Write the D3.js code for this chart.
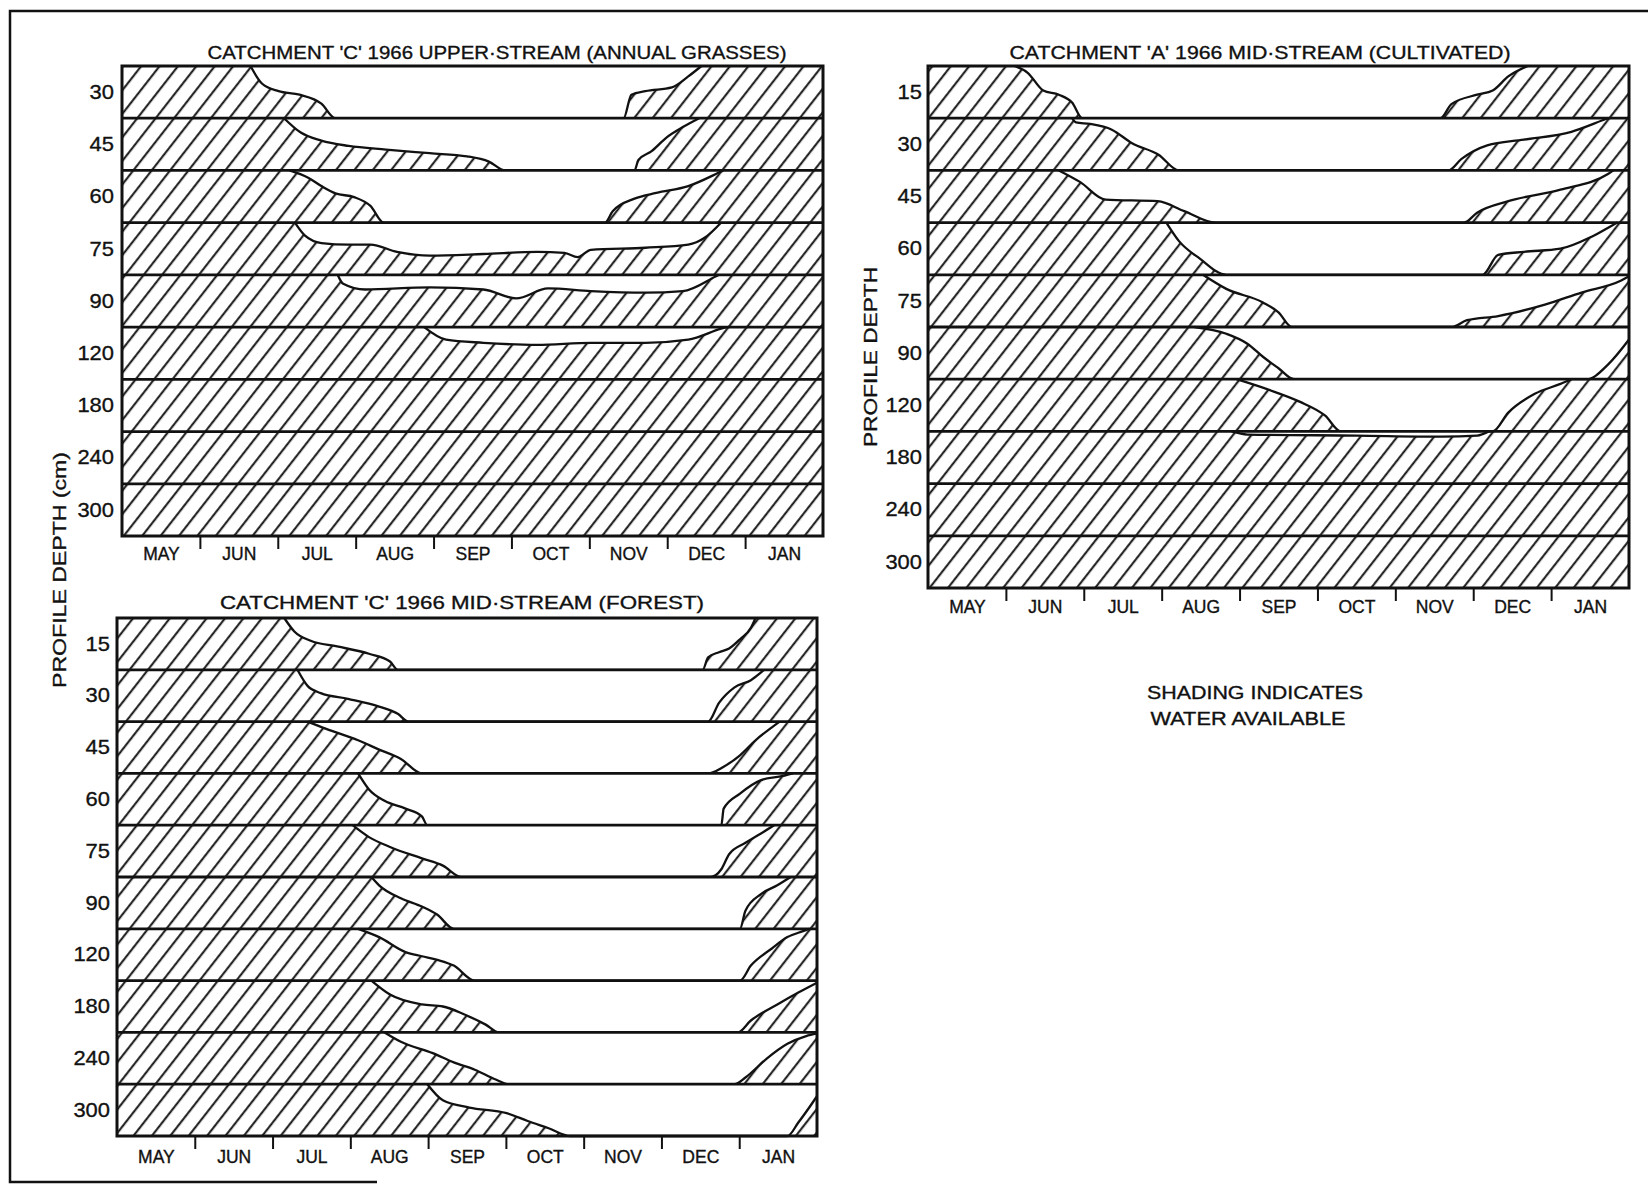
<!DOCTYPE html>
<html>
<head>
<meta charset="utf-8">
<script src="https://cdn.jsdelivr.net/npm/d3@7"></script>
<style>
  body { margin: 0; background: #fff; }
  svg text { font-family: "Liberation Sans", Arial, sans-serif; fill: #111; stroke: #111; stroke-width: 0.35px; }
</style>
</head>
<body>
<svg id="fig" width="1648" height="1184"></svg>
<script>
const MONTHS      = ["MAY","JUN","JUL","AUG","SEP","OCT","NOV","DEC","JAN"];
const DEPTHS_UP   = ["30","45","60","75","90","120","180","240","300"];
const DEPTHS_MID  = ["15","30","45","60","75","90","120","180","240","300"];

// unshaded (dry) zone per depth row: [month position 0..9, fraction down the row 0..1]
// the dry zone lies between the top of the row and this curve
const dryUpperC = [
  [[1.65,0],[1.80,0.34],[2.01,0.48],[2.28,0.55],[2.56,0.72],[2.74,1],[6.44,1],[6.54,0.55],[6.72,0.48],[7.06,0.41],[7.27,0.2],[7.44,0]],
  [[2.08,0],[2.29,0.27],[2.56,0.43],[2.91,0.53],[3.39,0.6],[3.95,0.67],[4.43,0.73],[4.71,0.83],[4.92,1],[6.58,1],[6.63,0.8],[6.8,0.63],[6.99,0.37],[7.2,0.17],[7.41,0]],
  [[2.15,0],[2.39,0.14],[2.56,0.3],[2.74,0.44],[2.98,0.51],[3.19,0.68],[3.36,1],[6.2,1],[6.3,0.78],[6.58,0.54],[6.86,0.43],[7.27,0.3],[7.65,0.05],[7.72,0]],
  [[2.22,0],[2.35,0.25],[2.56,0.39],[2.91,0.42],[3.19,0.42],[3.53,0.56],[3.95,0.63],[4.64,0.6],[5.33,0.56],[5.68,0.58],[5.85,0.66],[6.02,0.52],[6.72,0.48],[7.27,0.42],[7.48,0.29],[7.69,0]],
  [[2.77,0],[2.84,0.17],[3.12,0.28],[3.95,0.24],[4.64,0.28],[5.06,0.45],[5.47,0.26],[6.02,0.31],[6.72,0.34],[7.2,0.31],[7.62,0.03],[7.66,0]],
  [[3.88,0],[4.16,0.24],[4.64,0.3],[5.33,0.34],[6.02,0.3],[6.72,0.3],[7.27,0.24],[7.69,0.03],[7.76,0]],
  [], [], []
];

const dryMidA = [
  [[1.11,0],[1.28,0.13],[1.48,0.47],[1.68,0.55],[1.85,0.7],[1.98,1],[6.58,1],[6.72,0.73],[7.05,0.55],[7.25,0.47],[7.45,0.2],[7.7,0]],
  [[1.85,0],[1.9,0.08],[2.08,0.11],[2.36,0.22],[2.62,0.48],[2.96,0.7],[3.22,1],[6.68,1],[6.85,0.78],[7.18,0.52],[7.65,0.41],[8.26,0.26],[8.66,0.04],[8.73,0]],
  [[1.68,0],[1.95,0.22],[2.28,0.56],[2.95,0.59],[3.29,0.78],[3.69,1],[6.88,1],[7.05,0.81],[7.45,0.59],[8.12,0.37],[8.73,0.07],[8.8,0]],
  [[3.06,0],[3.22,0.35],[3.49,0.69],[3.83,1],[7.12,1],[7.32,0.62],[7.65,0.56],[8.12,0.5],[8.52,0.27],[8.8,0.04],[8.85,0]],
  [[3.53,0],[3.83,0.27],[4.3,0.53],[4.5,0.72],[4.67,1],[6.72,1],[6.92,0.87],[7.32,0.79],[7.92,0.57],[8.39,0.34],[8.9,0.11],[9,0.03]],
  [[3.42,0],[3.83,0.13],[4.1,0.32],[4.3,0.57],[4.5,0.79],[4.7,1],[8.46,1],[8.73,0.72],[9,0.24]],
  [[3.96,0],[4.37,0.2],[4.77,0.43],[5.1,0.7],[5.3,1],[7.25,1],[7.45,0.64],[7.79,0.28],[8.12,0.09],[8.26,0]],
  [[3.9,0],[4.1,0.06],[5.5,0.08],[6.6,0.1],[7.05,0.08],[7.2,0]],
  [], []
];

const dryMidC = [
  [[2.15,0],[2.28,0.26],[2.49,0.44],[2.83,0.55],[3.24,0.69],[3.51,0.84],[3.61,1],[7.53,1],[7.6,0.76],[7.74,0.66],[7.87,0.59],[8.01,0.41],[8.15,0.19],[8.21,0]],
  [[2.32,0],[2.45,0.31],[2.62,0.45],[2.97,0.56],[3.37,0.71],[3.61,0.85],[3.75,1],[7.6,1],[7.74,0.64],[7.94,0.34],[8.15,0.2],[8.28,0.05],[8.32,0]],
  [[2.45,0],[2.69,0.14],[3.1,0.36],[3.37,0.54],[3.65,0.72],[3.92,1],[7.6,1],[7.8,0.87],[8.01,0.65],[8.21,0.36],[8.42,0.11],[8.52,0]],
  [[3.1,0],[3.24,0.31],[3.44,0.53],[3.71,0.68],[3.92,0.83],[3.99,1],[7.77,1],[7.8,0.68],[8.01,0.39],[8.28,0.13],[8.56,0.05],[8.69,0]],
  [[3.03,0],[3.24,0.23],[3.51,0.42],[3.92,0.64],[4.19,0.78],[4.43,1],[7.63,1],[7.77,0.85],[7.87,0.56],[8.08,0.34],[8.28,0.16],[8.45,0]],
  [[3.27,0],[3.37,0.16],[3.65,0.41],[3.92,0.57],[4.12,0.73],[4.33,1],[8.01,1],[8.08,0.65],[8.28,0.33],[8.49,0.16],[8.62,0.04],[8.66,0]],
  [[3.1,0],[3.37,0.16],[3.71,0.45],[3.92,0.53],[4.12,0.6],[4.33,0.71],[4.6,1],[8.01,1],[8.15,0.71],[8.42,0.38],[8.62,0.16],[8.83,0.04],[8.9,0]],
  [[3.27,0],[3.51,0.27],[3.92,0.46],[4.19,0.5],[4.46,0.65],[4.74,0.85],[4.91,1],[7.98,1],[8.15,0.77],[8.49,0.46],[8.76,0.23],[9,0.04]],
  [[3.44,0],[3.65,0.18],[4.06,0.4],[4.33,0.58],[4.6,0.72],[4.87,0.91],[5.04,1],[7.94,1],[8.08,0.87],[8.35,0.51],[8.62,0.22],[8.86,0.07],[9,0.02]],
  [[3.99,0],[4.19,0.31],[4.53,0.45],[5.01,0.56],[5.28,0.71],[5.55,0.85],[5.83,1],[8.62,1],[8.76,0.74],[8.9,0.45],[9,0.23]]
];

const INK = "#111";
const svg = d3.select("#fig");

// hatch pattern — "/" lines
svg.append("defs").append("pattern")
  .attr("id", "hatch")
  .attr("patternUnits", "userSpaceOnUse")
  .attr("width", 14.5).attr("height", 14.5)
  .attr("patternTransform", "rotate(38)")
  .append("line")
  .attr("x1", 7).attr("y1", -1).attr("x2", 7).attr("y2", 15.5)
  .attr("stroke", INK).attr("stroke-width", 2);

// outer frame (open on the right, short at the bottom)
svg.append("path")
  .attr("d", "M1648,11 L10,11 L10,1182 L377,1182")
  .attr("fill", "none").attr("stroke", INK).attr("stroke-width", 2.5);

const panels = [
  { title: "CATCHMENT 'C' 1966  UPPER·STREAM (ANNUAL GRASSES)", titleX: 497, titleY: 59, titleW: 579,
    depths: DEPTHS_UP, dry: dryUpperC, x0: 122, x1: 823, y0: 66, y1: 536, monthPad: 12, labelPad: 8 },
  { title: "CATCHMENT 'A' 1966  MID·STREAM (CULTIVATED)", titleX: 1260, titleY: 59, titleW: 501,
    depths: DEPTHS_MID, dry: dryMidA, x0: 928, x1: 1629, y0: 66, y1: 588, monthPad: 13, labelPad: 6 },
  { title: "CATCHMENT 'C' 1966  MID·STREAM  (FOREST)", titleX: 462, titleY: 609, titleW: 484,
    depths: DEPTHS_MID, dry: dryMidC, x0: 117, x1: 817, y0: 618, y1: 1136, monthPad: 15, labelPad: 7 }
];

panels.forEach(drawPanel);

function drawPanel(p) {
  const x = d3.scaleLinear().domain([0, 9]).range([p.x0, p.x1]);
  const y = d3.scaleBand().domain(p.depths).range([p.y0, p.y1]);
  const h = y.bandwidth();
  const g = svg.append("g");

  // everything starts shaded
  g.append("rect")
    .attr("x", p.x0).attr("y", p.y0)
    .attr("width", p.x1 - p.x0).attr("height", p.y1 - p.y0)
    .attr("fill", "url(#hatch)");

  // dry zones cut out of each row
  p.dry.forEach((pts, i) => {
    if (!pts.length) return;
    const top = y(p.depths[i]);
    const area = d3.area()
      .x(d => x(d[0]))
      .y0(top)
      .y1(d => top + d[1] * h)
      .curve(d3.curveMonotoneX);
    const line = d3.line()
      .x(d => x(d[0]))
      .y(d => top + d[1] * h)
      .curve(d3.curveMonotoneX);
    g.append("path").attr("d", area(pts)).attr("fill", "#fff");
    g.append("path").attr("d", line(pts))
      .attr("fill", "none").attr("stroke", INK).attr("stroke-width", 2.3);
  });

  // row separators
  g.selectAll(".row-line")
    .data(p.depths.slice(1))
    .join("line")
    .attr("x1", p.x0).attr("x2", p.x1)
    .attr("y1", d => y(d)).attr("y2", d => y(d))
    .attr("stroke", INK).attr("stroke-width", 2.8);

  g.append("rect")
    .attr("x", p.x0).attr("y", p.y0)
    .attr("width", p.x1 - p.x0).attr("height", p.y1 - p.y0)
    .attr("fill", "none").attr("stroke", INK).attr("stroke-width", 3);

  // month boundary ticks
  const tk = g.append("g")
    .attr("transform", `translate(0,${p.y1})`)
    .call(d3.axisBottom(x).tickValues(d3.range(1, 9)).tickSize(13).tickFormat(""));
  tk.select(".domain").remove();
  tk.selectAll(".tick line").attr("stroke", INK).attr("stroke-width", 2);

  // month names centred in each month
  const ml = g.append("g")
    .attr("transform", `translate(0,${p.y1})`)
    .call(d3.axisBottom(x).tickValues(d3.range(9).map(i => i + 0.5))
            .tickSize(0).tickPadding(p.monthPad)
            .tickFormat((d, i) => MONTHS[i]));
  ml.select(".domain").remove();
  ml.selectAll("text").style("font-size", "17.5px");

  // depth labels
  const yl = g.append("g")
    .attr("transform", `translate(${p.x0},0)`)
    .call(d3.axisLeft(y).tickSize(0).tickPadding(p.labelPad));
  yl.select(".domain").remove();
  yl.selectAll("text").style("font-size", "21px")
    .attr("textLength", d => d.length * 12.2)
    .attr("lengthAdjust", "spacingAndGlyphs");

  g.append("text")
    .attr("x", p.titleX).attr("y", p.titleY)
    .attr("text-anchor", "middle")
    .attr("textLength", p.titleW).attr("lengthAdjust", "spacingAndGlyphs")
    .style("font-size", "18.5px")
    .text(p.title);
}

// axis captions
svg.append("text")
  .attr("transform", "translate(66,570) rotate(-90)")
  .attr("text-anchor", "middle")
  .attr("textLength", 236).attr("lengthAdjust", "spacingAndGlyphs")
  .style("font-size", "18px")
  .text("PROFILE  DEPTH  (cm)");

svg.append("text")
  .attr("transform", "translate(877,357) rotate(-90)")
  .attr("text-anchor", "middle")
  .attr("textLength", 180).attr("lengthAdjust", "spacingAndGlyphs")
  .style("font-size", "18px")
  .text("PROFILE  DEPTH");

// note
svg.append("text")
  .attr("x", 1255).attr("y", 699)
  .attr("text-anchor", "middle")
  .attr("textLength", 216).attr("lengthAdjust", "spacingAndGlyphs")
  .style("font-size", "18px")
  .text("SHADING  INDICATES");
svg.append("text")
  .attr("x", 1248).attr("y", 725)
  .attr("text-anchor", "middle")
  .attr("textLength", 195).attr("lengthAdjust", "spacingAndGlyphs")
  .style("font-size", "18px")
  .text("WATER  AVAILABLE");
</script>
</body>
</html>
